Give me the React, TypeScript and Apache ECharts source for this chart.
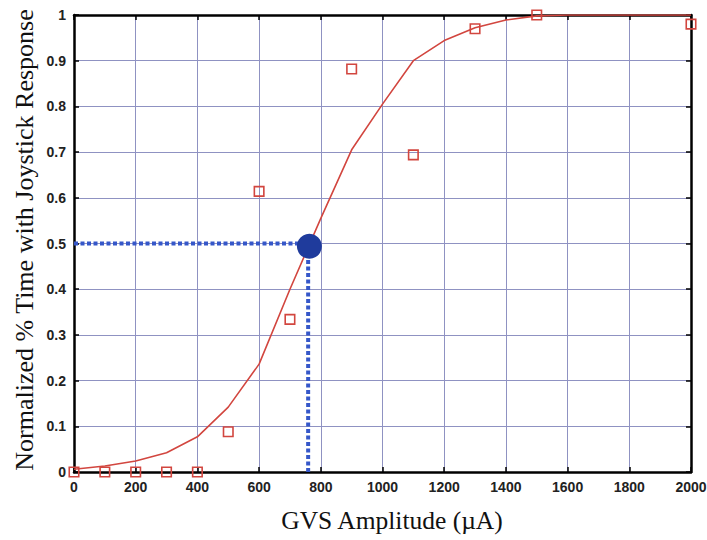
import React, { useEffect, useRef } from "react";
import * as echarts from "echarts";

const xTicks = [0, 200, 400, 600, 800, 1000, 1200, 1400, 1600, 1800, 2000];
const fitX = [0, 100, 200, 300, 400, 500, 600, 700, 800, 900, 1000, 1100, 1200, 1300, 1400, 1500, 1600, 1700, 1800, 1900, 2000];
const fitY = [0.006, 0.013, 0.024, 0.042, 0.077, 0.142, 0.236, 0.4, 0.555, 0.705, 0.805, 0.9, 0.944, 0.972, 0.989, 0.998, 1.0, 1.0, 1.0, 1.0, 1.0];
const obsX = [0, 100, 200, 300, 400, 500, 600, 700, 900, 1100, 1300, 1500, 2000];
const obsY = [0, 0, 0, 0, 0, 0.088, 0.614, 0.334, 0.882, 0.694, 0.97, 1.0, 0.98];
const threshX = [763];
const threshY = [0.494];
const xTitle = "GVS Amplitude (\u00B5A)";
const yTitle = "Normalized % Time with Joystick Response";

export default function App() {
  const ref = useRef<HTMLDivElement>(null);
  useEffect(() => {
    document.body.style.margin = "0";
    const chart = echarts.init(ref.current!, null, { renderer: "svg" });
    const gridColor = "#8f92c2";
    const red = "#d2463f";
    const blue = "#3557c9";
    const tickFont = { fontFamily: "Liberation Sans", fontWeight: "bold" as const, fontSize: 14, color: "#222" };
    const frameLine = { show: true, onZero: false, lineStyle: { color: "#000", width: 2.5 } };
    const tick = { show: true, inside: true, length: 5, lineStyle: { color: "#000", width: 1.5 } };
    const fit = fitX.map((x, i) => [x, fitY[i]]);
    const obs = obsX.map((x, i) => [x, obsY[i]]);
    const thr = threshX.map((x, i) => [x, threshY[i]]);
    chart.setOption({
      animation: false,
      backgroundColor: "#fff",
      grid: { left: 74, right: 16, top: 15, bottom: 68, containLabel: false, outerBoundsMode: "none" },
      xAxis: [
        {
          type: "value", min: xTicks[0], max: xTicks[xTicks.length - 1], interval: 200, position: "bottom",
          axisLine: frameLine, axisTick: tick,
          axisLabel: { ...tickFont, margin: 8, formatter: (v: number) => String(v) },
          splitLine: { show: true, lineStyle: { color: gridColor, width: 1 } },
        },
        {
          type: "value", min: 0, max: 2000, interval: 200, position: "top",
          axisLine: frameLine, axisTick: tick, axisLabel: { show: false }, splitLine: { show: false },
        },
      ],
      yAxis: [
        {
          type: "value", min: 0, max: 1, interval: 0.1, position: "left",
          axisLine: frameLine, axisTick: tick,
          axisLabel: {
            ...tickFont, margin: 8,
            formatter: (v: number) => (v === 0 ? "0" : v === 1 ? "1" : v.toFixed(1)),
          },
          splitLine: { show: true, lineStyle: { color: gridColor, width: 1 } },
        },
        {
          type: "value", min: 0, max: 1, interval: 0.1, position: "right",
          axisLine: frameLine, axisTick: tick, axisLabel: { show: false }, splitLine: { show: false },
        },
      ],
      series: [
        {
          type: "line", data: [[0, threshY[0] + 0.006], [threshX[0], threshY[0] + 0.006]], showSymbol: false, symbol: "none",
          lineStyle: { color: blue, width: 4, type: [4, 2.5] }, z: 3, silent: true,
        },
        {
          type: "line", data: [[threshX[0] - 4, 0], [threshX[0] - 4, threshY[0]]], showSymbol: false, symbol: "none",
          lineStyle: { color: blue, width: 4, type: [4, 2.5] }, z: 3, silent: true,
        },
        {
          type: "line", data: fit, showSymbol: false, symbol: "none",
          lineStyle: { color: red, width: 1.6 }, z: 4,
        },
        {
          type: "scatter", data: obs, symbol: "rect", symbolSize: 9.5, clip: false,
          itemStyle: { color: "rgba(255,255,255,0)", borderColor: red, borderWidth: 1.6, opacity: 1 }, z: 5,
        },
        {
          type: "scatter", data: thr, symbol: "circle", symbolSize: 25, clip: false,
          itemStyle: { color: "#1f3b9c", opacity: 1 }, z: 6,
        },
      ],
      graphic: [
        {
          type: "text", x: 392, y: 520,
          style: { text: xTitle, font: "25.5px 'Liberation Serif'", fill: "#111", align: "center", verticalAlign: "middle" },
        },
        {
          type: "text", x: 24, y: 240, rotation: Math.PI / 2,
          style: { text: yTitle, font: "26px 'Liberation Serif'", fill: "#111", align: "center", verticalAlign: "middle" },
        },
      ],
    });
    return () => chart.dispose();
  }, []);
  return <div ref={ref} style={{ width: 707, height: 540 }} />;
}
